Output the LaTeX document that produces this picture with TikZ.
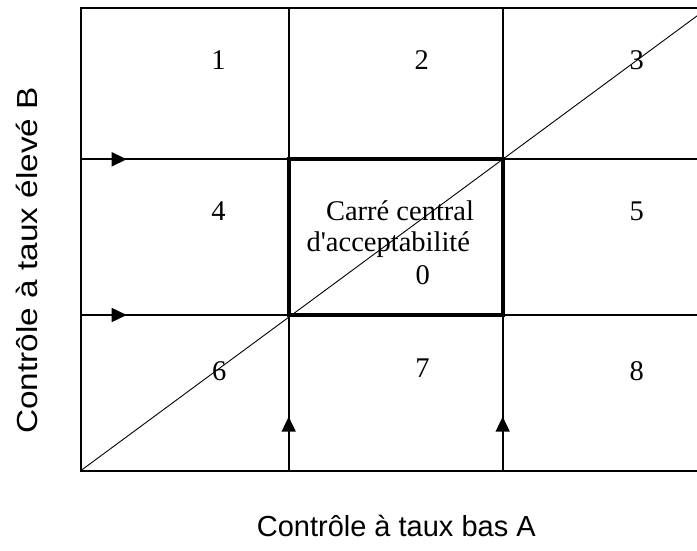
\documentclass[tikz,border=0pt]{standalone}
\usepackage{fontspec}
\setmainfont{Liberation Serif}
\newfontfamily\arialfont{Liberation Sans}
\usetikzlibrary{arrows.meta}
\tikzset{
  gridline/.style={line width=1.7pt, line cap=rect},
  centerbox/.style={line width=4pt, line cap=rect},
  diagline/.style={line width=0.9pt},
  flowarrow/.style={line width=1.7pt, -{Triangle[length=15pt,width=14pt]}},
  num/.style={anchor=base, inner sep=0pt, font=\fontsize{28.5}{33}\selectfont},
  axislabel/.style={anchor=base, inner sep=0pt, font=\arialfont\fontsize{29}{34}\selectfont}
}
\begin{document}
\begin{tikzpicture}[x=1pt,y=-1pt]
\useasboundingbox (0,0) rectangle (697,551);
\clip (0,0) rectangle (697,551);
% frame corners and grid coordinates
\coordinate (TL) at (80.7,7.7);
\coordinate (BL) at (80.7,470.7);
\coordinate (BR) at (716.7,470.7);
\coordinate (TR) at (716.7,7.7);
\coordinate (C1T) at (288.7,7.7);
\coordinate (C1B) at (288.7,470.7);
\coordinate (C2T) at (502.7,7.7);
\coordinate (C2B) at (502.7,470.7);
\coordinate (R1L) at (80.7,159.3);
\coordinate (R1R) at (716.7,159.3);
\coordinate (R2L) at (80.7,315);
\coordinate (R2R) at (716.7,315);
\coordinate (BoxTL) at (288.7,159.3);
\coordinate (BoxBR) at (502.7,315);
\coordinate (BoxTR) at (502.7,159.3);
\coordinate (DiagEnd) at (716.7,1.4);
% arrow tips
\coordinate (A1) at (126.7,159.3);
\coordinate (A2) at (126.7,315);
\coordinate (A3) at (288.7,416.7);
\coordinate (A4) at (502.7,416.7);

% grid
\draw[gridline] (TL) rectangle (BR);
\draw[gridline] (C1T) -- (C1B);
\draw[gridline] (C2T) -- (C2B);
\draw[gridline] (R1L) -- (R1R);
\draw[gridline] (R2L) -- (R2R);
% diagonal
\draw[diagline] (BL) -- (DiagEnd);
% central square
\draw[centerbox] (BoxTL) rectangle (BoxBR);
% arrows
\draw[flowarrow] (R1L) -- (A1);
\draw[flowarrow] (R2L) -- (A2);
\draw[flowarrow] (C1B) -- (A3);
\draw[flowarrow] (C2B) -- (A4);

% cell numbers
\node[num] (n1) at (218.5,69.3) {1};
\node[num] (n2) at (421.7,69.3) {2};
\node[num] (n3) at (636.7,69.3) {3};
\node[num] (n4) at (218.5,220) {4};
\node[num] (n5) at (636.7,220) {5};
\node[num] (n6) at (219.3,380) {6};
\node[num] (n7) at (422.5,377) {7};
\node[num] (n8) at (636.7,380) {8};
% center text
\node[num] (t1) at (400,220) {Carré central};
\node[num] (t2) at (388.3,251.7) {d\textquotesingle acceptabilité};
\node[num] (t0) at (422.7,284) {0};
% axis labels
\node[axislabel] (xlab) at (396.3,536.7) {Contrôle à taux bas A};
\node[axislabel, rotate=90] (ylab) at (37,260.5) {\scalebox{1.15}[1]{Contrôle à taux élevé B}};
\end{tikzpicture}
\end{document}
